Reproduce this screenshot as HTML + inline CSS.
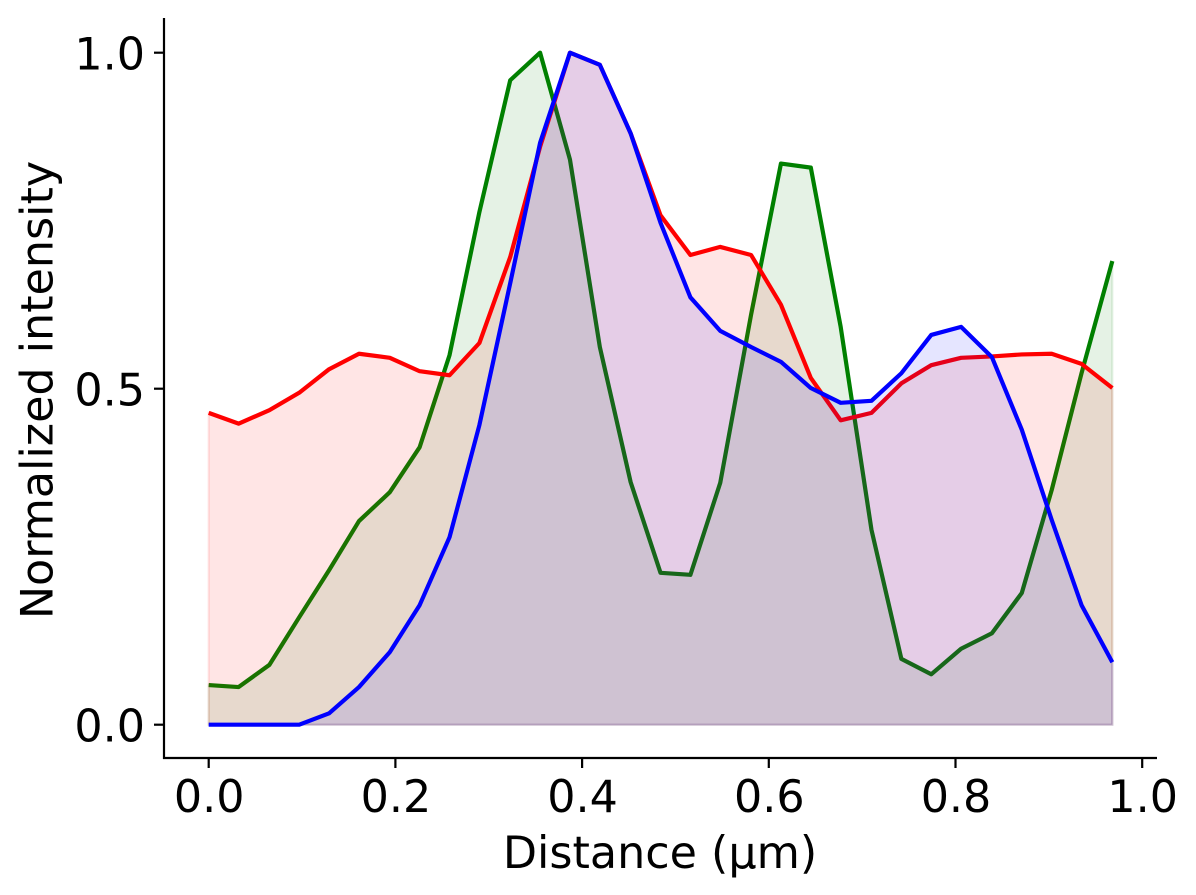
<!DOCTYPE html>
<html lang="en">
<head>
<meta charset="utf-8">
<title>Normalized intensity profile</title>
<style>
html,body{margin:0;padding:0;background:#fff;width:1196px;height:895px;overflow:hidden}
svg{display:block}
text{font-family:"DejaVu Sans",sans-serif;fill:#000}
</style>
</head>
<body>
<svg id="chart" xmlns="http://www.w3.org/2000/svg" width="1196" height="895" viewBox="0 0 1196 895">
  <g id="plot"></g>
  <g id="axes"></g>
  <text x="660" y="868" text-anchor="middle" font-size="44.4">Distance (µm)</text>
  <text transform="translate(52.5,390) rotate(-90)" text-anchor="middle" font-size="44.4">Normalized intensity</text>
</svg>
<script>
const distances = [0.000,0.032,0.065,0.097,0.129,0.161,0.194,0.226,0.258,0.290,0.323,0.355,0.387,0.419,0.452,0.484,0.516,0.548,0.581,0.613,0.645,0.677,0.710,0.742,0.774,0.806,0.839,0.871,0.903,0.935,0.968];
const redValues = [0.464,0.448,0.468,0.494,0.529,0.552,0.546,0.526,0.520,0.568,0.696,0.860,1.000,0.982,0.880,0.758,0.699,0.711,0.699,0.625,0.516,0.453,0.464,0.508,0.535,0.546,0.548,0.551,0.552,0.537,0.501];
const greenValues = [0.059,0.056,0.089,0.160,0.230,0.303,0.346,0.413,0.550,0.763,0.959,1.000,0.841,0.562,0.361,0.226,0.223,0.360,0.610,0.835,0.829,0.592,0.290,0.098,0.075,0.113,0.136,0.196,0.349,0.523,0.690];
const blueValues = [0,0,0,0,0.017,0.056,0.108,0.178,0.279,0.446,0.657,0.866,1.000,0.982,0.880,0.747,0.636,0.586,0.562,0.540,0.501,0.479,0.482,0.523,0.580,0.592,0.547,0.439,0.305,0.178,0.093];
const xTicks = [0.0,0.2,0.4,0.6,0.8,1.0];
const yTicks = [0.0,0.5,1.0];

const NS = 'http://www.w3.org/2000/svg';
const xScale = function (v) { return 208.7 + v * 933.5; };
const yScale = function (v) { return 724.7 - v * 672; };
const plot = document.getElementById('plot');
const axes = document.getElementById('axes');

function make(tag, attrs, parent) {
  const el = document.createElementNS(NS, tag);
  for (const k in attrs) el.setAttribute(k, attrs[k]);
  parent.appendChild(el);
  return el;
}

function linePoints(vals) {
  return vals.map(function (v, i) { return xScale(distances[i]).toFixed(2) + ',' + yScale(v).toFixed(2); }).join(' ');
}

function drawSeries(name, vals, color) {
  const areaPts = xScale(distances[0]).toFixed(2) + ',' + yScale(0).toFixed(2) + ' ' + linePoints(vals) + ' ' + xScale(distances[distances.length - 1]).toFixed(2) + ',' + yScale(0).toFixed(2);
  const area = make('polygon', {points: areaPts, fill: color, 'fill-opacity': 0.1, stroke: color, 'stroke-opacity': 0.1, 'stroke-width': 2.2}, plot);
  
  
  const line = make('polyline', {points: linePoints(vals), fill: 'none', stroke: color, 'stroke-width': 4.2, 'stroke-linejoin': 'round', 'stroke-linecap': 'butt'}, plot);
  
  
}

drawSeries('green-channel', greenValues, '#008000');
drawSeries('red-channel', redValues, '#ff0000');
drawSeries('blue-channel', blueValues, '#0000ff');

const leftSpine = make('line', {x1: 164, y1: 18, x2: 164, y2: 759, stroke: '#000', 'stroke-width': 2.2}, axes);


const bottomSpine = make('line', {x1: 163, y1: 758, x2: 1157, y2: 758, stroke: '#000', 'stroke-width': 2.2}, axes);



xTicks.forEach(function (t) {
  const x = xScale(t);
  const tick = make('line', {x1: x, y1: 758, x2: x, y2: 768, stroke: '#000', 'stroke-width': 2.2}, axes);
  
  
  const label = make('text', {x: x + 0.5, y: 812, 'text-anchor': 'middle', 'font-size': 44.4}, axes);
  
  
  label.textContent = t.toFixed(1);
});

yTicks.forEach(function (t) {
  const y = yScale(t);
  const tick = make('line', {x1: 154, y1: y, x2: 164, y2: y, stroke: '#000', 'stroke-width': 2.2}, axes);
  
  
  const label = make('text', {x: 145, y: y + 17, 'text-anchor': 'end', 'font-size': 44.4}, axes);
  
  
  label.textContent = t.toFixed(1);
});
</script>
</body>
</html>
